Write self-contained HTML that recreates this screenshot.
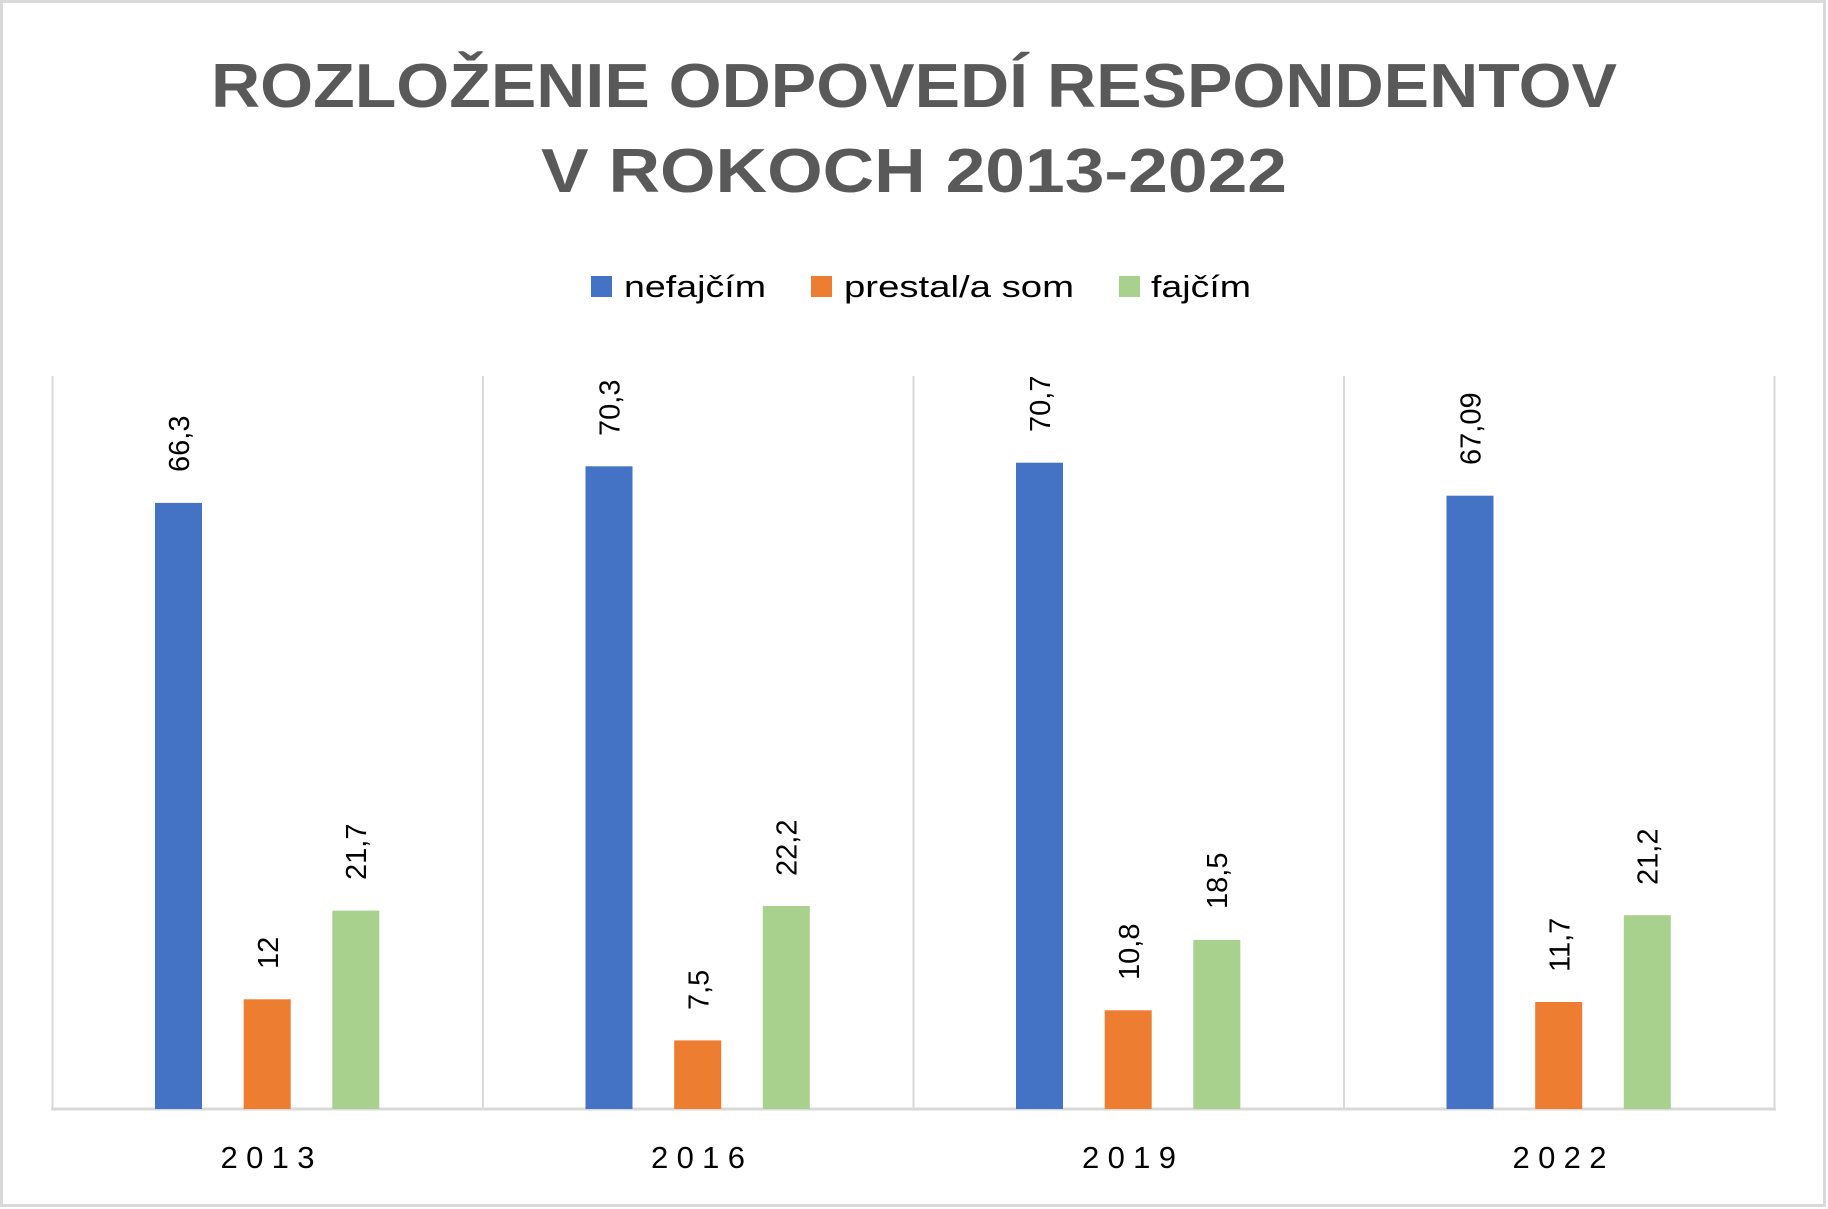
<!DOCTYPE html>
<html><head><meta charset="utf-8"><style>
html,body{margin:0;padding:0;background:#fff;}
svg{display:block;}
text{font-family:"Liberation Sans",sans-serif;}
</style></head><body>
<svg width="1828" height="1209" viewBox="0 0 1828 1209" xmlns="http://www.w3.org/2000/svg">
<rect x="1.5" y="1.5" width="1823" height="1204" fill="#fff" stroke="#d9d9d9" stroke-width="3"/>
<text x="914" y="107" text-anchor="middle" font-size="62" font-weight="bold" fill="#595959" textLength="1406" lengthAdjust="spacingAndGlyphs">ROZLOŽENIE ODPOVEDÍ RESPONDENTOV</text>
<text x="914" y="192" text-anchor="middle" font-size="62" font-weight="bold" fill="#595959" textLength="746" lengthAdjust="spacingAndGlyphs">V ROKOCH 2013-2022</text>
<rect x="591" y="276" width="21" height="21" fill="#4472C4"/>
<text x="624" y="297" font-size="31" fill="#000" textLength="142" lengthAdjust="spacingAndGlyphs">nefajčím</text>
<rect x="811" y="276" width="21" height="21" fill="#ED7D31"/>
<text x="844" y="297" font-size="31" fill="#000" textLength="230" lengthAdjust="spacingAndGlyphs">prestal/a som</text>
<rect x="1119" y="276" width="21" height="21" fill="#A9D18E"/>
<text x="1151" y="297" font-size="31" fill="#000" textLength="100" lengthAdjust="spacingAndGlyphs">fajčím</text>
<g stroke="#d9d9d9" stroke-width="2">
<line x1="52.5" y1="376" x2="52.5" y2="1109"/>
<line x1="483" y1="376" x2="483" y2="1109"/>
<line x1="913.5" y1="376" x2="913.5" y2="1109"/>
<line x1="1344" y1="376" x2="1344" y2="1109"/>
<line x1="1774.5" y1="376" x2="1774.5" y2="1109"/>
</g>
<line x1="51" y1="1109" x2="1776" y2="1109" stroke="#d9d9d9" stroke-width="3"/>
<g font-size="29" fill="#000">
<rect x="155" y="502.9" width="47" height="606.1" fill="#4472C4"/>
<rect x="243.7" y="999.3" width="47" height="109.7" fill="#ED7D31"/>
<rect x="332.3" y="910.6" width="47" height="198.4" fill="#A9D18E"/>
<text transform="translate(189,472) rotate(-90)">66,3</text>
<text transform="translate(278,969) rotate(-90)">12</text>
<text transform="translate(366,880) rotate(-90)">21,7</text>
<rect x="585.5" y="466.3" width="47" height="642.7" fill="#4472C4"/>
<rect x="674.2" y="1040.4" width="47" height="68.6" fill="#ED7D31"/>
<rect x="762.8" y="906" width="47" height="203" fill="#A9D18E"/>
<text transform="translate(619.5,436) rotate(-90)">70,3</text>
<text transform="translate(708.5,1010) rotate(-90)">7,5</text>
<text transform="translate(796.5,876) rotate(-90)">22,2</text>
<rect x="1016" y="462.7" width="47" height="646.3" fill="#4472C4"/>
<rect x="1104.7" y="1010.3" width="47" height="98.7" fill="#ED7D31"/>
<rect x="1193.3" y="939.9" width="47" height="169.1" fill="#A9D18E"/>
<text transform="translate(1050,432) rotate(-90)">70,7</text>
<text transform="translate(1139,980) rotate(-90)">10,8</text>
<text transform="translate(1227,909) rotate(-90)">18,5</text>
<rect x="1446.5" y="495.7" width="47" height="613.3" fill="#4472C4"/>
<rect x="1535.2" y="1002" width="47" height="107" fill="#ED7D31"/>
<rect x="1623.8" y="915.2" width="47" height="193.8" fill="#A9D18E"/>
<text transform="translate(1480.5,465) rotate(-90)">67,09</text>
<text transform="translate(1569.5,972) rotate(-90)">11,7</text>
<text transform="translate(1657.5,885) rotate(-90)">21,2</text>
</g>
<g font-size="31" fill="#000" text-anchor="middle">
<text x="267.5" y="1168" textLength="94" lengthAdjust="spacing">2013</text>
<text x="698" y="1168" textLength="94" lengthAdjust="spacing">2016</text>
<text x="1129" y="1168" textLength="94" lengthAdjust="spacing">2019</text>
<text x="1559.5" y="1168" textLength="94" lengthAdjust="spacing">2022</text>
</g>
</svg>
</body></html>
